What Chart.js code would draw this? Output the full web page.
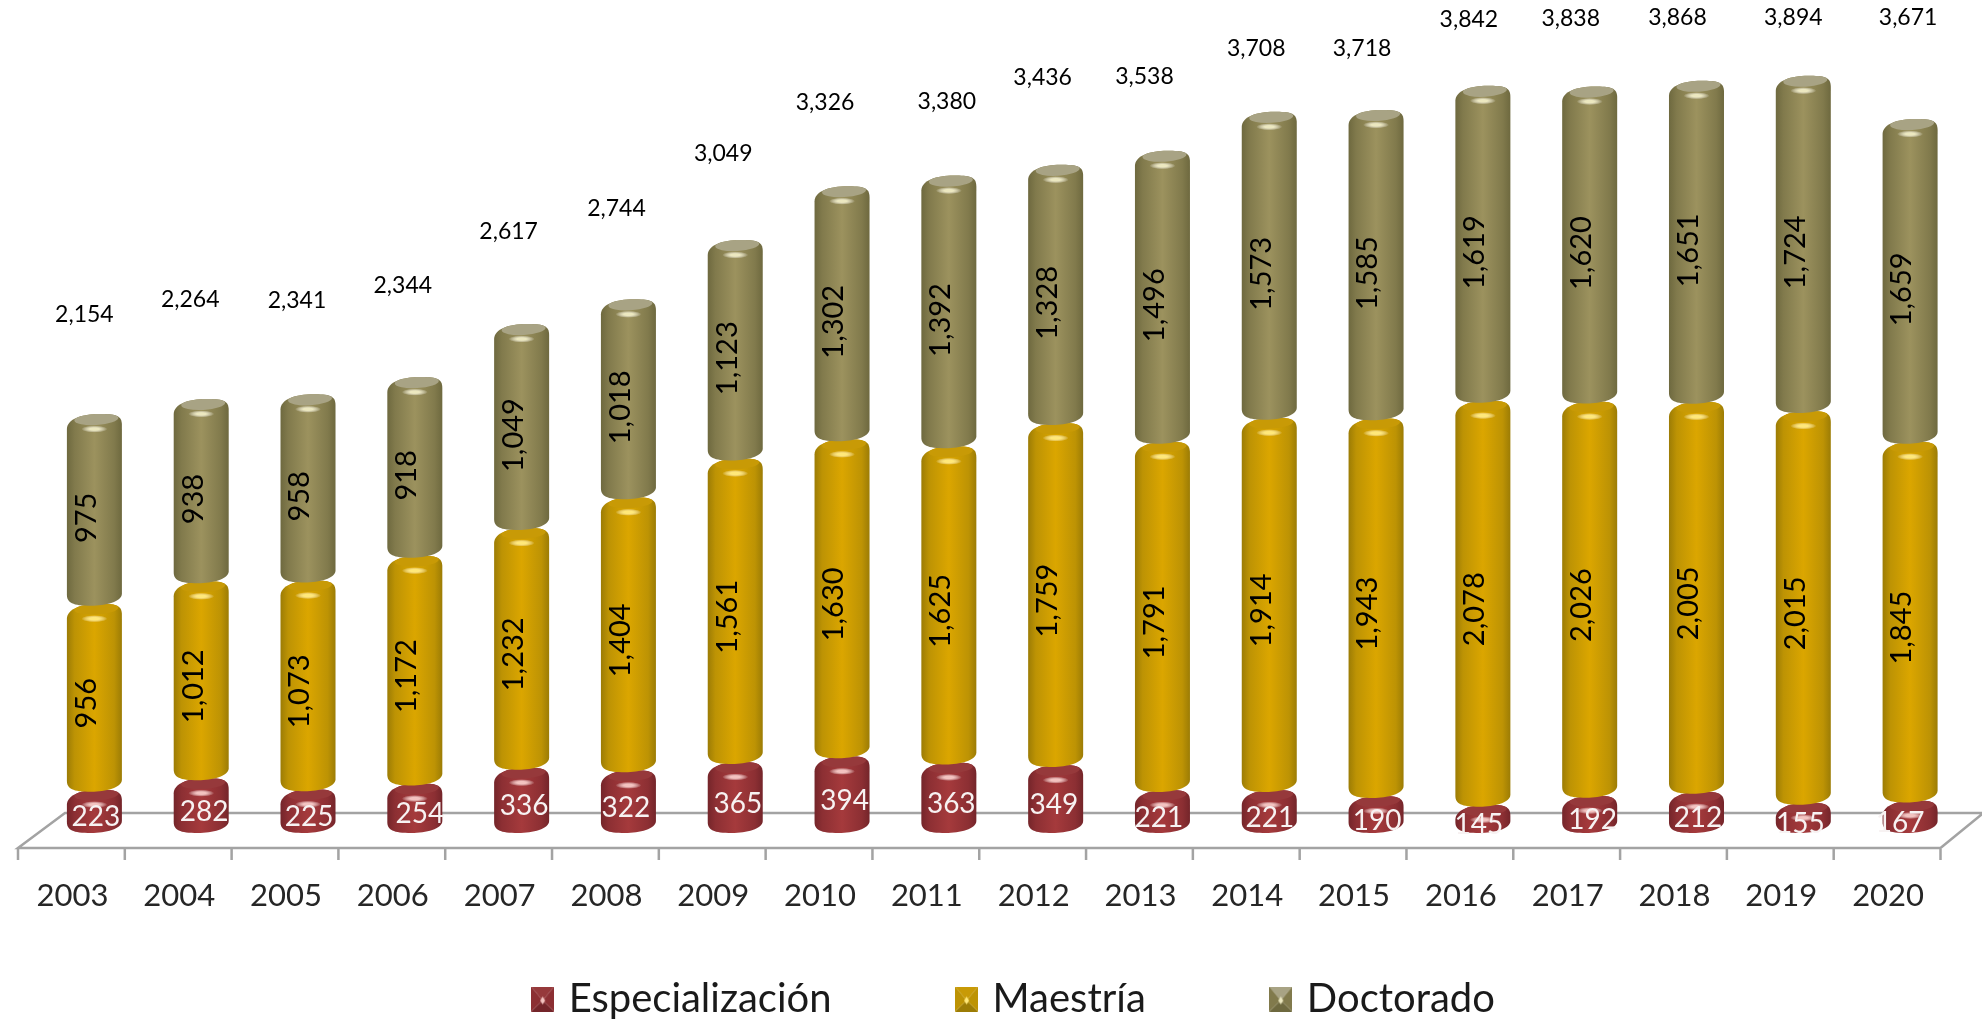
<!DOCTYPE html>
<html>
<head>
<meta charset="utf-8">
<title>Especialización, Maestría, Doctorado</title>
<script src="https://cdn.jsdelivr.net/npm/chart.js@4"></script>
<style>
  html, body { margin: 0; padding: 0; background: #fff; overflow: hidden; }
  canvas { display: block; }
</style>
</head>
<body>
<canvas id="posgradoChart" width="1982" height="1021"></canvas>
<script>
const years = ['2003', '2004', '2005', '2006', '2007', '2008', '2009', '2010', '2011', '2012', '2013', '2014', '2015', '2016', '2017', '2018', '2019', '2020'];
const especializacion = [223, 282, 225, 254, 336, 322, 365, 394, 363, 349, 221, 221, 190, 145, 192, 212, 155, 167];
const maestria = [956, 1012, 1073, 1172, 1232, 1404, 1561, 1630, 1625, 1759, 1791, 1914, 1943, 2078, 2026, 2005, 2015, 1845];
const doctorado = [975, 938, 958, 918, 1049, 1018, 1123, 1302, 1392, 1328, 1496, 1573, 1585, 1619, 1620, 1651, 1724, 1659];
const totals = [2154, 2264, 2341, 2344, 2617, 2744, 3049, 3326, 3380, 3436, 3538, 3708, 3718, 3842, 3838, 3868, 3894, 3671];

// the labels were placed by hand in the original, so they need nudging per bar
const totalLift = [99, 99, 94, 92, 92, 91, 86, 84, 74, 87, 74, 63, 61, 66, 68, 63, 58, 101];
const totalShift = [-10, -11, -11, -12, -13, -12, -12, -17, -2, -13, -18, -13, -14, -14, -19, -19, -10, -2];
const redShift = [1.5, 3, 1, 5, 2.6, -2.5, 2.7, 2.6, 2.4, -1.7, -3.5, 0.7, 1, -4, 3, 1.5, -3, -10];

const FONT = 'Lato, Carlito, Calibri, sans-serif';

const skins = [
    { edge: '#74252a', side: '#8c2f33', mid: '#a53a3c', cap: '#96393b', glow: '#f3c3c0', text: '#f7f2f2', dx: null, dy: 6 },
    { edge: '#9c7c05', side: '#bd9304', mid: '#dba600', cap: '#c89a06', glow: '#ffe87a', text: '#000', dx: -8, dy: 6.5 },
    { edge: '#6e693f', side: '#817a4c', mid: '#9c925e', cap: '#a8a384', glow: '#ece8c0', text: '#000', dx: -8, dy: 9 }
];

function cylinderPath(ctx, l, r, t, b) {
    const w = r - l, c = (l + r) / 2;
    ctx.beginPath();
    ctx.moveTo(l, t + 15);
    ctx.bezierCurveTo(l, t + 5, l + w * 0.28, t, c + w * 0.08, t);
    ctx.bezierCurveTo(r - w * 0.12, t, r, t + 1, r, t + 11);
    ctx.lineTo(r, b - 12);
    ctx.bezierCurveTo(r, b - 4, c + w * 0.2, b, c - w * 0.06, b);
    ctx.bezierCurveTo(l + w * 0.1, b, l, b - 3, l, b - 11);
    ctx.closePath();
}

function drawCylinder(ctx, bar, skin, overshoot) {
    const l = bar.x - bar.width / 2, r = bar.x + bar.width / 2;
    const t = bar.y, b = bar.base + overshoot;
    const side = ctx.createLinearGradient(l, 0, r, 0);
    side.addColorStop(0, skin.edge);
    side.addColorStop(0.14, skin.side);
    side.addColorStop(0.5, skin.mid);
    side.addColorStop(0.86, skin.side);
    side.addColorStop(1, skin.edge);
    ctx.save();
    cylinderPath(ctx, l, r, t, b);
    ctx.fillStyle = side;
    ctx.fill();
    ctx.clip();
    // lid, tilted up to the right
    ctx.save();
    ctx.translate(bar.x + 2, t + 5);
    ctx.rotate(-0.06);
    ctx.scale(22, 6);
    ctx.fillStyle = skin.cap;
    ctx.beginPath();
    ctx.arc(0, 0, 1, 0, Math.PI * 2);
    ctx.fill();
    ctx.restore();
    // highlight just under the lid
    const glow = ctx.createRadialGradient(0, 0, 0, 0, 0, 1);
    glow.addColorStop(0, skin.glow);
    glow.addColorStop(0.35, skin.glow);
    glow.addColorStop(1, 'rgba(255,255,255,0)');
    ctx.translate(bar.x, t + 15);
    ctx.scale(13, 3.5);
    ctx.fillStyle = glow;
    ctx.beginPath();
    ctx.arc(0, 0, 1, 0, Math.PI * 2);
    ctx.fill();
    ctx.restore();
}

const cylinders = {
    id: 'cylinders',
    // bottom segment first: each upper cylinder sits over the one below it
    beforeDatasetsDraw(chart) {
        skins.forEach((skin, d) => {
            chart.getDatasetMeta(d).data.forEach(el => {
                drawCylinder(chart.ctx, el.getProps(['x', 'y', 'base', 'width'], true), skin, d === 0 ? 0 : 2);
            });
        });
    },
    beforeDatasetDraw() {
        return false;
    }
};

const floor3d = {
    id: 'floor3d',
    beforeDatasetsDraw(chart) {
        const { ctx, scales: { x, y } } = chart;
        const base = y.getPixelForValue(0);
        const front = base + 15, back = base - 20;
        const shift = 23, step = (x.right - x.left) / years.length;
        const x0 = x.left - shift, x1 = x.right - shift;
        ctx.save();
        ctx.strokeStyle = '#a3a3a3';
        ctx.lineWidth = 2.5;
        ctx.beginPath();
        ctx.moveTo(x0, front);
        ctx.lineTo(x1, front);
        ctx.lineTo(x1 + 43, back);
        ctx.lineTo(x0 + 47, back);
        ctx.closePath();
        for (let i = 0; i <= years.length; i++) {
            ctx.moveTo(x0 + i * step, front);
            ctx.lineTo(x0 + i * step, front + 12);
        }
        ctx.stroke();
        ctx.restore();
    }
};

const valueLabels = {
    id: 'valueLabels',
    afterDatasetsDraw(chart) {
        const ctx = chart.ctx;
        ctx.save();
        ctx.textAlign = 'center';
        ctx.textBaseline = 'middle';
        chart.data.datasets.forEach((ds, d) => {
            const skin = skins[d];
            chart.getDatasetMeta(d).data.forEach((el, i) => {
                const bar = el.getProps(['x', 'y', 'base'], true);
                const text = ds.data[i].toLocaleString('en-US');
                const cy = (bar.y + bar.base) / 2 + skin.dy;
                ctx.fillStyle = skin.text;
                if (d === 0) {
                    ctx.font = '28px ' + FONT;
                    ctx.fillText(text, bar.x + redShift[i], cy);
                } else {
                    ctx.font = '29px ' + FONT;
                    ctx.save();
                    ctx.translate(bar.x + skin.dx, cy);
                    ctx.rotate(-Math.PI / 2);
                    ctx.fillText(text, 0, 0);
                    ctx.restore();
                }
            });
        });
        ctx.fillStyle = '#000';
        ctx.font = '23px ' + FONT;
        const top = chart.getDatasetMeta(2).data;
        top.forEach((el, i) => {
            const bar = el.getProps(['x', 'y'], true);
            ctx.fillText(totals[i].toLocaleString('en-US'), bar.x + totalShift[i], bar.y - totalLift[i]);
        });
        ctx.restore();
    }
};

// legend sits a little right of centre; the x scale clips its labels to its box
const layoutNudge = {
    id: 'layoutNudge',
    afterLayout(chart) {
        chart.legend.left += 13.5;
        chart.legend.right += 13.5;
        chart.legend.top += 1;
        chart.scales.x.bottom += 70;
    }
};

function makeMarker(skin) {
    const c = document.createElement('canvas');
    c.width = 23;
    c.height = 25;
    const g = c.getContext('2d');
    const tri = (ax, ay, bx, by, color) => {
        g.fillStyle = color;
        g.beginPath();
        g.moveTo(ax, ay);
        g.lineTo(bx, by);
        g.lineTo(11.5, 14);
        g.closePath();
        g.fill();
    };
    tri(0, 0, 23, 0, skin.cap);
    tri(0, 25, 23, 25, skin.edge);
    tri(0, 0, 0, 25, skin.side);
    tri(23, 0, 23, 25, skin.side);
    g.fillStyle = skin.glow;
    g.beginPath();
    g.moveTo(11.5, 10);
    g.lineTo(14, 14);
    g.lineTo(11.5, 18);
    g.lineTo(9, 14);
    g.closePath();
    g.fill();
    return c;
}

new Chart(document.getElementById('posgradoChart'), {
    type: 'bar',
    data: {
        labels: years,
        datasets: [
            { label: 'Especialización', data: especializacion, backgroundColor: '#a53a3c' },
            { label: 'Maestría', data: maestria, backgroundColor: '#dba600' },
            { label: 'Doctorado', data: doctorado, backgroundColor: '#9c925e' }
        ]
    },
    options: {
        responsive: false,
        animation: false,
        layout: { padding: { left: 41, right: 18.5, top: 0, bottom: -7 } },
        categoryPercentage: 1,
        barPercentage: 0.515,
        scales: {
            x: {
                stacked: true,
                grid: { display: false },
                border: { display: false },
                afterFit: scale => {
                    scale.height = 16;
                    scale.paddingLeft = 0;
                    scale.paddingRight = 0;
                },
                ticks: {
                    autoSkip: false,
                    maxRotation: 0,
                    padding: 36,
                    labelOffset: -22,
                    color: '#262626',
                    font: { family: FONT, size: 31 }
                }
            },
            y: {
                stacked: true,
                display: false,
                min: 0,
                max: 4283
            }
        },
        plugins: {
            tooltip: { enabled: false },
            legend: {
                position: 'bottom',
                labels: {
                    usePointStyle: true,
                    boxHeight: 25,
                    pointStyleWidth: 12,
                    padding: 129,
                    color: '#1a1a1a',
                    font: { family: FONT, size: 40 },
                    generateLabels: chart => chart.data.datasets.map((ds, i) => ({
                        text: ds.label,
                        datasetIndex: i,
                        pointStyle: makeMarker(skins[i]),
                        fontColor: '#1a1a1a',
                        lineWidth: 0,
                        strokeStyle: 'transparent'
                    }))
                }
            }
        }
    },
    plugins: [floor3d, cylinders, valueLabels, layoutNudge]
});
</script>
</body>
</html>
